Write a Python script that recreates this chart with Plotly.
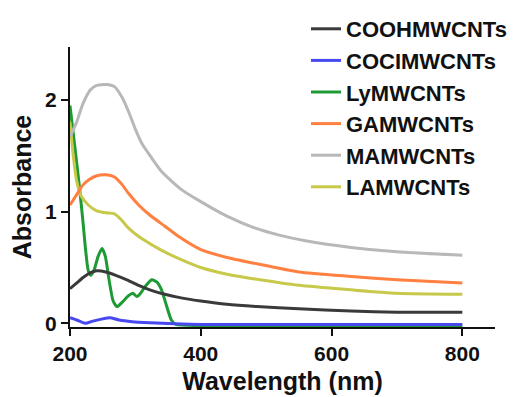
import plotly.graph_objects as go

names = ["COOHMWCNTs", "COCIMWCNTs", "LyMWCNTs", "GAMWCNTs", "MAMWCNTs", "LAMWCNTs"]
colors = ["#3a3a3a", "#4848f0", "#1e9a34", "#ff8040", "#b8b8b8", "#c8c84a"]

cooh_x = [200, 210, 220, 230, 241, 255, 270, 287, 305, 322, 345, 368, 400, 440, 486, 550, 630, 700, 800]
cooh_y = [0.31, 0.36, 0.41, 0.45, 0.47, 0.46, 0.43, 0.39, 0.34, 0.30, 0.26, 0.23, 0.20, 0.17, 0.15, 0.13, 0.11, 0.10, 0.10]

cocl_x = [200, 210, 223, 235, 250, 261, 275, 295, 322, 360, 400, 800]
cocl_y = [0.05, 0.03, 0.0, 0.02, 0.04, 0.05, 0.03, 0.015, 0.005, -0.005, -0.01, -0.01]

ly_x = [200, 205, 210, 215, 220, 224, 228, 232, 237, 243, 249, 254, 260, 266, 272, 280, 290, 296, 302, 308, 315, 325, 333, 340, 348, 355, 362, 400, 800]
ly_y = [1.95, 1.70, 1.45, 1.19, 0.90, 0.65, 0.47, 0.43, 0.48, 0.60, 0.67, 0.60, 0.38, 0.20, 0.15, 0.19, 0.25, 0.27, 0.24, 0.27, 0.33, 0.39, 0.37, 0.30, 0.15, 0.03, -0.01, -0.02, -0.02]

ga_x = [200, 210, 220, 230, 240, 255, 268, 280, 290, 305, 322, 345, 368, 400, 440, 480, 550, 630, 700, 800]
ga_y = [1.06, 1.15, 1.24, 1.29, 1.32, 1.33, 1.31, 1.24, 1.16, 1.06, 0.97, 0.87, 0.77, 0.66, 0.59, 0.54, 0.46, 0.42, 0.39, 0.36]

ma_x = [200, 210, 220, 231, 240, 255, 268, 280, 290, 300, 310, 325, 340, 370, 400, 440, 480, 520, 560, 630, 700, 800]
ma_y = [1.67, 1.80, 1.97, 2.09, 2.13, 2.14, 2.12, 2.02, 1.89, 1.74, 1.61, 1.48, 1.36, 1.20, 1.09, 0.96, 0.86, 0.79, 0.74, 0.68, 0.64, 0.61]

la_x = [200, 205, 210, 217, 228, 240, 255, 268, 278, 290, 300, 312, 338, 370, 400, 440, 480, 550, 630, 700, 800]
la_y = [1.80, 1.50, 1.28, 1.14, 1.06, 1.01, 0.99, 0.98, 0.93, 0.85, 0.80, 0.75, 0.66, 0.57, 0.50, 0.44, 0.40, 0.34, 0.30, 0.27, 0.26]

xs = [cooh_x, cocl_x, ly_x, ga_x, ma_x, la_x]
ys = [cooh_y, cocl_y, ly_y, ga_y, ma_y, la_y]

x_ticks = [200, 400, 600, 800]
y_ticks = [0, 1, 2]

draw_order = [2, 0, 1, 5, 3, 4]

fig = go.Figure()
for i in draw_order:
    fig.add_trace(go.Scatter(
        x=xs[i], y=ys[i], name=names[i], mode="lines",
        line=dict(color=colors[i], width=3, shape="spline", smoothing=0.6),
        legendrank=i + 1,
    ))

FAMILY = "Liberation Sans, Arial, sans-serif"
font = dict(family=FAMILY, size=21, color="#111111", weight="bold")

W, H = 516, 389
fig.update_layout(
    width=W, height=H,
    margin=dict(l=62, r=29, t=39, b=70, autoexpand=False),
    paper_bgcolor="white", plot_bgcolor="white",
    font=font,
    showlegend=True,
    legend=dict(
        xref="container", yref="container",
        x=298 / W, y=1 + 3 / H, xanchor="left", yanchor="top",
        maxheight=380,
        font=dict(family=FAMILY, size=22, color="#111111", weight="bold"),
        bgcolor="rgba(0,0,0,0)", traceorder="normal", itemwidth=30,
    ),
    xaxis=dict(
        range=[200, 850], tickvals=x_ticks, ticktext=[str(v) for v in x_ticks],
        showgrid=False, zeroline=False, showline=True, linecolor="#111111", linewidth=2,
        ticks="outside", ticklen=7, tickwidth=2, tickcolor="#111111",
        title=dict(text="Wavelength (nm)", standoff=8), automargin=False,
    ),
    yaxis=dict(
        range=[-0.033, 2.475], tickvals=y_ticks, ticktext=[str(v) for v in y_ticks],
        showgrid=False, zeroline=False, showline=True, linecolor="#111111", linewidth=2,
        ticks="outside", ticklen=7, tickwidth=2, tickcolor="#111111",
        title=dict(text="Absorbance", standoff=6), automargin=False,
    ),
)

fig.write_html("out.html")
